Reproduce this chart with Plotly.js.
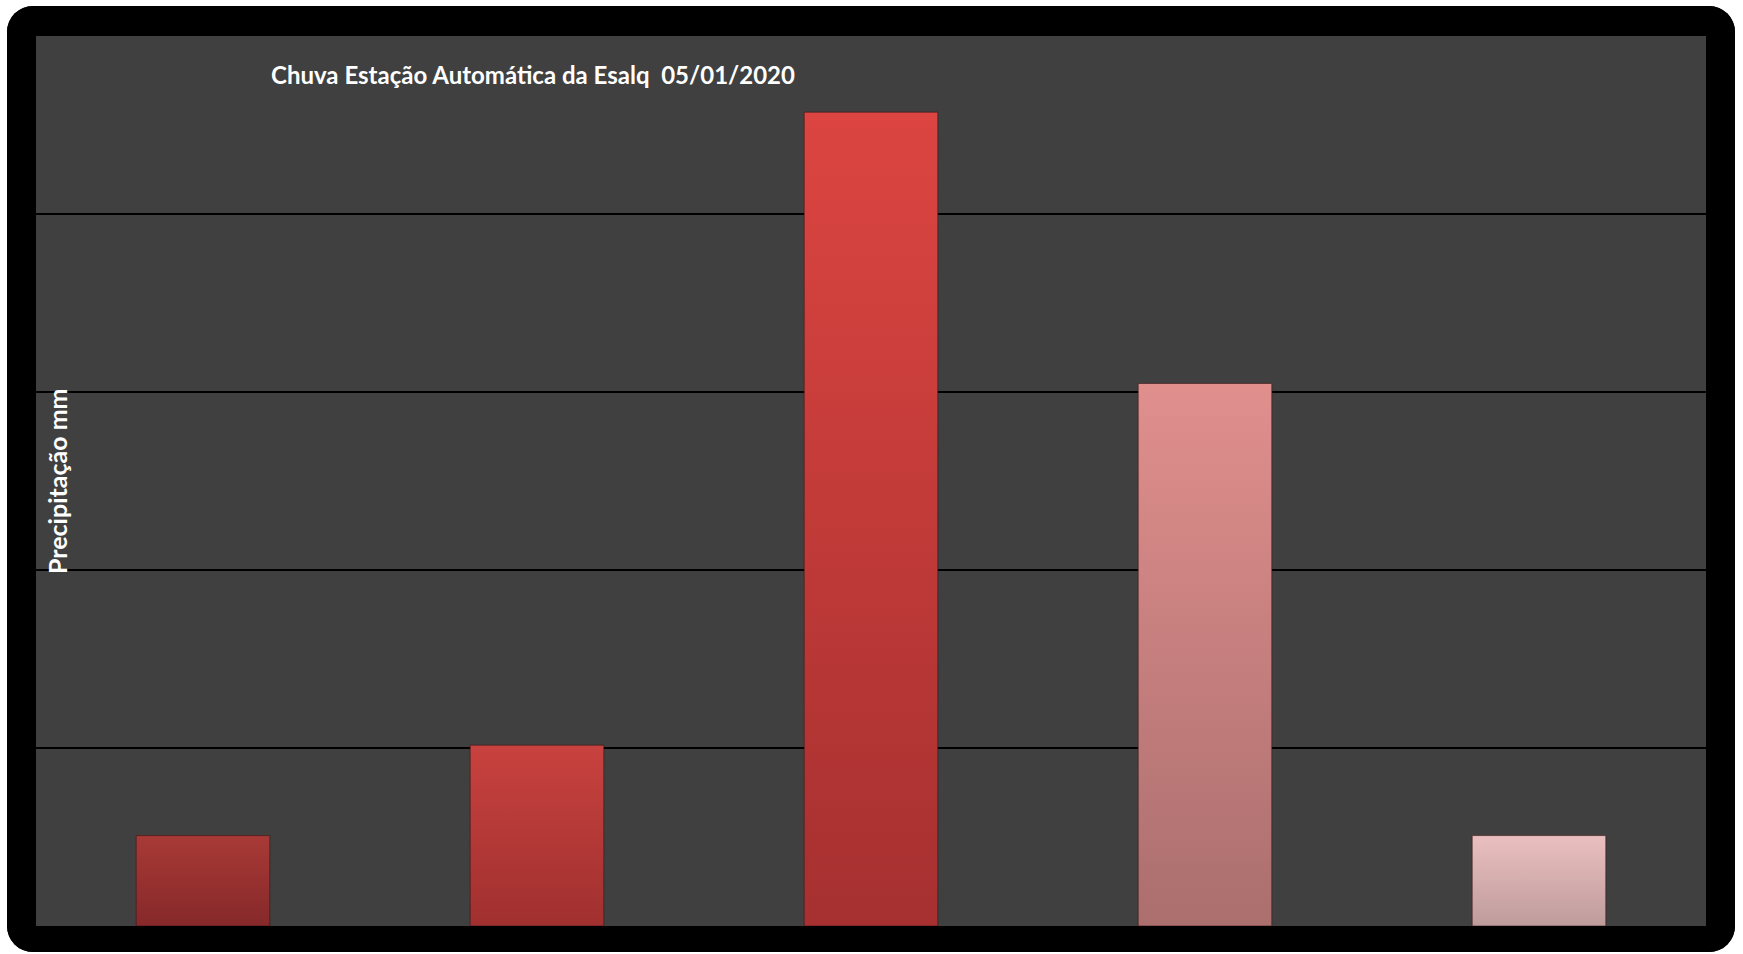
<!DOCTYPE html>
<html>
<head>
<meta charset="utf-8">
<script src="https://cdn.plot.ly/plotly-3.0.1.min.js"></script>
<style>
  html, body { margin: 0; padding: 0; background: #ffffff; width: 1743px; height: 954px; overflow: hidden; }
  #frame { position: absolute; left: 7px; top: 6px; width: 1728px; height: 946px; background: #000; border-radius: 26px; overflow: hidden; }
  #chart { width: 1728px; height: 946px; }
</style>
</head>
<body>
<div id="frame"><div id="chart"></div></div>
<script>
// Data (precipitation, mm)
const categories = ["1", "2", "3", "4", "5"];
const precipitation = [0.508, 1.016, 4.572, 3.048, 0.508];
const barColors = ["#983030", "#b93a38", "#cd3f3c", "#cf8483", "#d8b1b1"];
const gradTop = ["#a83a36", "#c8423f", "#dc4541", "#e08f8d", "#eabfbf"];
const gradBottom = ["#86282a", "#a0302f", "#a63030", "#ab6f6e", "#bf9c9c"];
const titleText = "Chuva Estação Automática da Esalq&nbsp; 05/01/2020";
const yTitleText = "Precipitação mm";

const trace = {
  type: "bar",
  x: categories,
  y: precipitation,
  marker: { color: barColors, line: { color: "rgba(60,20,20,0.6)", width: 1 } },
  hoverinfo: "y"
};

const layout = {
  width: 1728,
  height: 946,
  paper_bgcolor: "#000000",
  plot_bgcolor: "#404040",
  margin: { l: 29, r: 29, t: 30, b: 26, pad: 0 },
  bargap: 0.6,
  showlegend: false,
  font: { family: "Lato, 'Open Sans', sans-serif", color: "#ffffff" },
  title: {
    text: titleText,
    font: { family: "Lato, 'Open Sans', sans-serif", size: 24, color: "#ffffff", weight: "bold" },
    xref: "paper", x: 0.2976, xanchor: "center",
    yref: "container", y: 0.926, yanchor: "middle"
  },
  xaxis: {
    type: "category",
    showticklabels: false,
    showgrid: false,
    zeroline: false,
    showline: false,
    ticks: ""
  },
  yaxis: {
    range: [0, 5],
    dtick: 1,
    showticklabels: false,
    showgrid: true,
    gridcolor: "#000000",
    gridwidth: 2,
    zeroline: false,
    showline: false,
    ticks: ""
  },
  annotations: [{
    text: yTitleText,
    textangle: -90,
    xref: "paper", yref: "paper",
    x: 0.0126, y: 0.5,
    xanchor: "center", yanchor: "middle",
    showarrow: false,
    font: { family: "Lato, 'Open Sans', sans-serif", size: 25, color: "#ffffff", weight: "bold" }
  }]
};

function applyGradients(gd) {
  const svg = gd.querySelector("svg.main-svg");
  if (!svg) return;
  const ns = "http://www.w3.org/2000/svg";
  let defs = svg.querySelector("defs");
  if (!defs) { defs = document.createElementNS(ns, "defs"); svg.insertBefore(defs, svg.firstChild); }
  gradTop.forEach((c, i) => {
    const id = "barGrad" + i;
    if (svg.querySelector("#" + id)) return;
    const g = document.createElementNS(ns, "linearGradient");
    g.setAttribute("id", id);
    g.setAttribute("x1", "0"); g.setAttribute("y1", "0");
    g.setAttribute("x2", "0"); g.setAttribute("y2", "1");
    const s1 = document.createElementNS(ns, "stop");
    s1.setAttribute("offset", "0"); s1.setAttribute("stop-color", c);
    const s2 = document.createElementNS(ns, "stop");
    s2.setAttribute("offset", "1"); s2.setAttribute("stop-color", gradBottom[i]);
    g.appendChild(s1); g.appendChild(s2);
    defs.appendChild(g);
  });
  const paths = gd.querySelectorAll(".trace.bars .point path");
  paths.forEach((p, i) => {
    if (i < gradTop.length) p.style.fill = "url(#barGrad" + i + ")";
  });
}

const gd = document.getElementById("chart");
Plotly.newPlot(gd, [trace], layout, { displayModeBar: false, staticPlot: true }).then(() => applyGradients(gd));
</script>
</body>
</html>
